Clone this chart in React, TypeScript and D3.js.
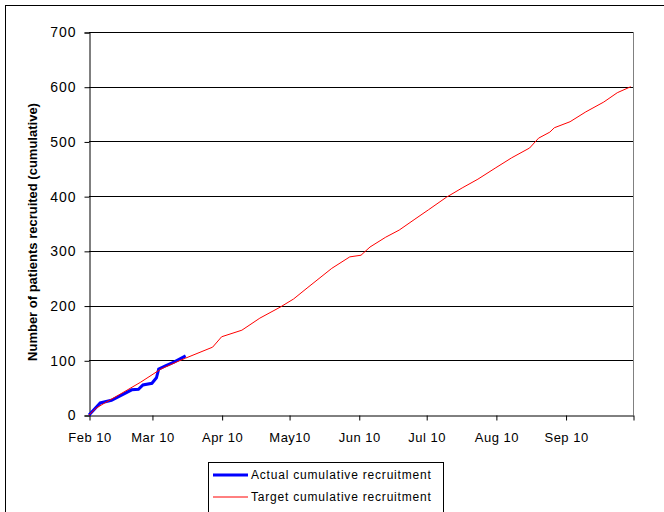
import React, { useEffect, useRef } from 'react';
import * as d3 from 'd3';

// tick labels on the date axis
const monthTicks = ['2010-02-01', '2010-03-01', '2010-04-01', '2010-05-01', '2010-06-01', '2010-07-01', '2010-08-01', '2010-09-01', '2010-10-01'];
const monthLabels = ['Feb 10', 'Mar 10', 'Apr 10', 'May10', 'Jun 10', 'Jul 10', 'Aug 10', 'Sep 10', ''];
const yTicks = [0, 100, 200, 300, 400, 500, 600, 700];

// target cumulative recruitment
const targetDates = ['2010-02-01', '2010-02-04', '2010-02-08', '2010-02-14', '2010-02-24', '2010-03-05', '2010-03-12', '2010-03-16', '2010-03-28', '2010-04-01', '2010-04-10', '2010-04-18', '2010-04-27', '2010-05-03', '2010-05-09', '2010-05-20', '2010-05-28', '2010-06-02', '2010-06-06', '2010-06-13', '2010-06-19', '2010-06-26', '2010-07-02', '2010-07-10', '2010-07-17', '2010-07-24', '2010-08-01', '2010-08-08', '2010-08-16', '2010-08-20', '2010-08-25', '2010-08-27', '2010-09-03', '2010-09-10', '2010-09-18', '2010-09-24', '2010-09-30'];
const targetValues = [0, 12, 22, 36, 60, 84, 97, 104, 124, 143, 155, 177, 197, 212, 232, 268, 289, 292, 307, 325, 338, 358, 375, 398, 415, 431, 452, 470, 488, 506, 517, 525, 536, 554, 572, 589, 600];

// actual cumulative recruitment
const actualDates = ['2010-02-01', '2010-02-06', '2010-02-11', '2010-02-20', '2010-02-23', '2010-02-25', '2010-03-01', '2010-03-03', '2010-03-04', '2010-03-07', '2010-03-11', '2010-03-16'];
const actualValues = [0, 22, 27, 46, 47, 55, 58, 68, 84, 90, 97, 108];

const parse = d3.utcParse('%Y-%m-%d');

const App = () => {
  const svgRef = useRef<SVGSVGElement>(null);

  useEffect(() => {
    const svg = d3.select(svgRef.current);
    svg.selectAll('*').remove();

    const left = 89, right = 633, top = 32, bottom = 415;
    const font = 'Liberation Sans, Arial, sans-serif';

    // outer chart frame
    svg.append('rect')
      .attr('x', 5.5).attr('y', 5.5).attr('width', 700).attr('height', 600)
      .attr('fill', 'white').attr('stroke', '#000').attr('stroke-width', 1);

    const x = d3.scaleUtc()
      .domain([parse('2010-02-01')!, parse('2010-10-01')!])
      .range([left, right]);
    const y = d3.scaleLinear().domain([0, 700]).range([bottom, top]);

    const g = svg.append('g');

    // gridlines
    g.selectAll('line.grid')
      .data(yTicks.filter(d => d > 0))
      .join('line')
      .attr('x1', left).attr('x2', right)
      .attr('y1', d => Math.round(y(d)) + 0.5).attr('y2', d => Math.round(y(d)) + 0.5)
      .attr('stroke', '#000').attr('stroke-width', 1);

    // right edge of plot area
    g.append('line')
      .attr('x1', right + 0.5).attr('x2', right + 0.5)
      .attr('y1', top).attr('y2', bottom)
      .attr('stroke', '#808080');

    // y axis
    const yAxis = g.append('g')
      .attr('transform', `translate(${left + 0.5},0.5)`)
      .call(d3.axisLeft(y).tickValues(yTicks).tickSize(5).tickPadding(8));
    yAxis.select('.domain').attr('stroke', '#000');
    yAxis.selectAll('text')
      .attr('font-family', font).attr('font-size', 14).attr('letter-spacing', 1).attr('fill', '#000');

    // x axis
    const xAxis = g.append('g')
      .attr('transform', `translate(0.5,${bottom + 0.5})`)
      .call(d3.axisBottom(x)
        .tickValues(monthTicks.map(d => parse(d)!))
        .tickFormat((_, i) => monthLabels[i])
        .tickSize(5).tickPadding(12)
        .tickSizeOuter(0));
    xAxis.select('.domain').attr('stroke', '#000');
    xAxis.selectAll('text')
      .attr('font-family', font).attr('font-size', 13).attr('letter-spacing', 0.5).attr('fill', '#000');

    // y axis title
    svg.append('text')
      .attr('transform', `translate(37,232) rotate(-90)`)
      .attr('text-anchor', 'middle')
      .attr('font-family', font).attr('font-size', 13).attr('font-weight', 'bold')
      .text('Number of patients recruited (cumulative)');

    const line = d3.line<[Date, number]>()
      .x(d => x(d[0]))
      .y(d => y(d[1]));

    const target: [Date, number][] = targetDates.map((d, i) => [parse(d)!, targetValues[i]]);
    const actual: [Date, number][] = actualDates.map((d, i) => [parse(d)!, actualValues[i]]);

    g.append('path')
      .datum(actual)
      .attr('fill', 'none').attr('stroke', '#0000ff').attr('stroke-width', 3)
      .attr('d', line);

    g.append('path')
      .datum(target)
      .attr('fill', 'none').attr('stroke', '#ff0000').attr('stroke-width', 1)
      .attr('d', line);

    // legend
    const lg = svg.append('g');
    lg.append('rect')
      .attr('x', 208.5).attr('y', 462.5).attr('width', 235).attr('height', 60)
      .attr('fill', 'white').attr('stroke', '#000');
    const items = [
      { label: 'Actual cumulative recruitment', color: '#0000ff', w: 3, yy: 475 },
      { label: 'Target cumulative recruitment', color: '#ff0000', w: 1, yy: 497 },
    ];
    items.forEach(it => {
      lg.append('line')
        .attr('x1', 213).attr('x2', 248).attr('y1', it.yy).attr('y2', it.yy)
        .attr('stroke', it.color).attr('stroke-width', it.w);
      lg.append('text')
        .attr('x', 251).attr('y', it.yy + 4)
        .attr('font-family', font).attr('font-size', 12).attr('letter-spacing', 0.8)
        .text(it.label);
    });
  }, []);

  return (
    <svg ref={svgRef} width={664} height={512}
      style={{ position: 'absolute', left: 0, top: 0, background: 'white' }} />
  );
};

export default App;
